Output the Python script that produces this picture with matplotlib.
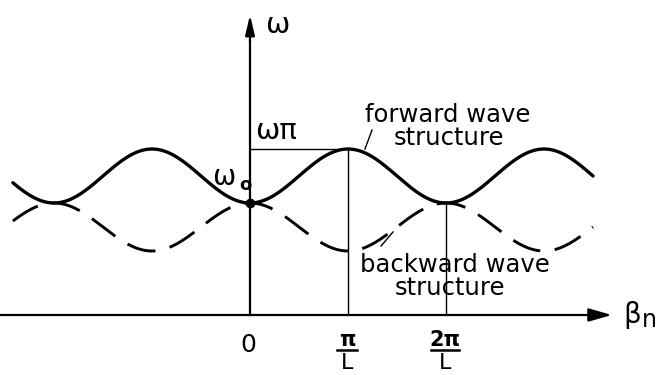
import numpy as np
import matplotlib.pyplot as plt

# Dispersion of a periodic slow-wave structure (beta in units of pi/L)
omega_0 = 1.12        # frequency at beta = 0 (band edge)
omega_pi = 1.66       # frequency at beta = pi/L, forward-wave structure
omega_back_min = 0.64 # frequency at beta = pi/L, backward-wave structure
beta_left, beta_right = -2.42, 3.50

tick_pos = [1, 2]
tick_num = ["π", "2π"]

beta = np.linspace(beta_left, beta_right, 600)
fwd_mid, fwd_amp = (omega_0 + omega_pi) / 2, (omega_pi - omega_0) / 2
bwd_mid, bwd_amp = (omega_0 + omega_back_min) / 2, (omega_0 - omega_back_min) / 2
forward = fwd_mid - fwd_amp * np.cos(np.pi * beta)
backward = bwd_mid + bwd_amp * np.cos(np.pi * beta)

fig = plt.figure(figsize=(6.63, 3.75), dpi=100)
ax = fig.add_axes([0, 0, 1, 1])
ax.set_xlim(-2.551, 4.214)
ax.set_ylim(-0.60, 3.15)
ax.axis("off")

k = "black"
# axes with arrowheads
ax.plot([-2.551, 3.55], [0, 0], color=k, lw=1.6)
ax.annotate("", xy=(3.72, 0), xytext=(3.45, 0),
            arrowprops=dict(arrowstyle="-|>,head_length=1.4,head_width=0.4",
                            color=k, lw=1.6))
ax.plot([0, 0], [0, 2.75], color=k, lw=1.6)
ax.annotate("", xy=(0, 3.03), xytext=(0, 2.7),
            arrowprops=dict(arrowstyle="-|>,head_length=1.2,head_width=0.28",
                            color=k, lw=1.6))

# curves
ax.plot(beta, forward, color=k, lw=2.4, solid_capstyle="round")
ax.plot(beta, backward, color=k, lw=2.1, dashes=(10, 5))

# construction lines
ax.plot([0, 1], [omega_pi, omega_pi], color=k, lw=1.0)
ax.plot([1, 1], [0, omega_pi], color=k, lw=1.0)
ax.plot([2, 2], [0, omega_0], color=k, lw=1.0)
ax.plot([0], [omega_0], "o", color=k, ms=6)

# labels
fs = 17.5
ax.text(0.15, 2.90, "ω", fontsize=21, ha="left", va="center")
ax.text(0.05, 1.84, "ωπ", fontsize=21, ha="left", va="center")
ax.text(-0.15, 1.38, "ω", fontsize=20, ha="right", va="center")
ax.text(-0.11, 1.30, "o", fontsize=13, ha="left", va="center", fontweight="bold")
ax.text(3.81, 0.0, "β", fontsize=20, ha="left", va="center")
ax.text(4.00, -0.05, "n", fontsize=17, ha="left", va="center")

ax.text(2.02, 1.93, "forward wave", fontsize=fs, ha="center", va="baseline")
ax.text(2.03, 1.70, "structure", fontsize=fs, ha="center", va="baseline")
ax.plot([1.173, 1.245], [1.66, 1.85], color=k, lw=1.0)

ax.text(2.09, 0.43, "backward wave", fontsize=fs, ha="center", va="baseline")
ax.text(2.04, 0.20, "structure", fontsize=fs, ha="center", va="baseline")
ax.plot([1.337, 1.459], [0.69, 0.83], color=k, lw=1.0)

# tick labels on the beta axis
ax.text(-0.02, -0.30, "0", fontsize=18, ha="center", va="center")
for p, num in zip(tick_pos, tick_num):
    ax.text(p - 0.01, -0.245, num, fontsize=15, ha="center", va="center",
            fontweight="bold")
    half = 0.105 if len(num) == 1 else 0.14
    ax.plot([p - 0.01 - half, p - 0.01 + half], [-0.35, -0.35], color=k, lw=1.8)
    ax.text(p - 0.01, -0.48, "L", fontsize=16, ha="center", va="center")

fig.savefig("out.png", dpi=100)
